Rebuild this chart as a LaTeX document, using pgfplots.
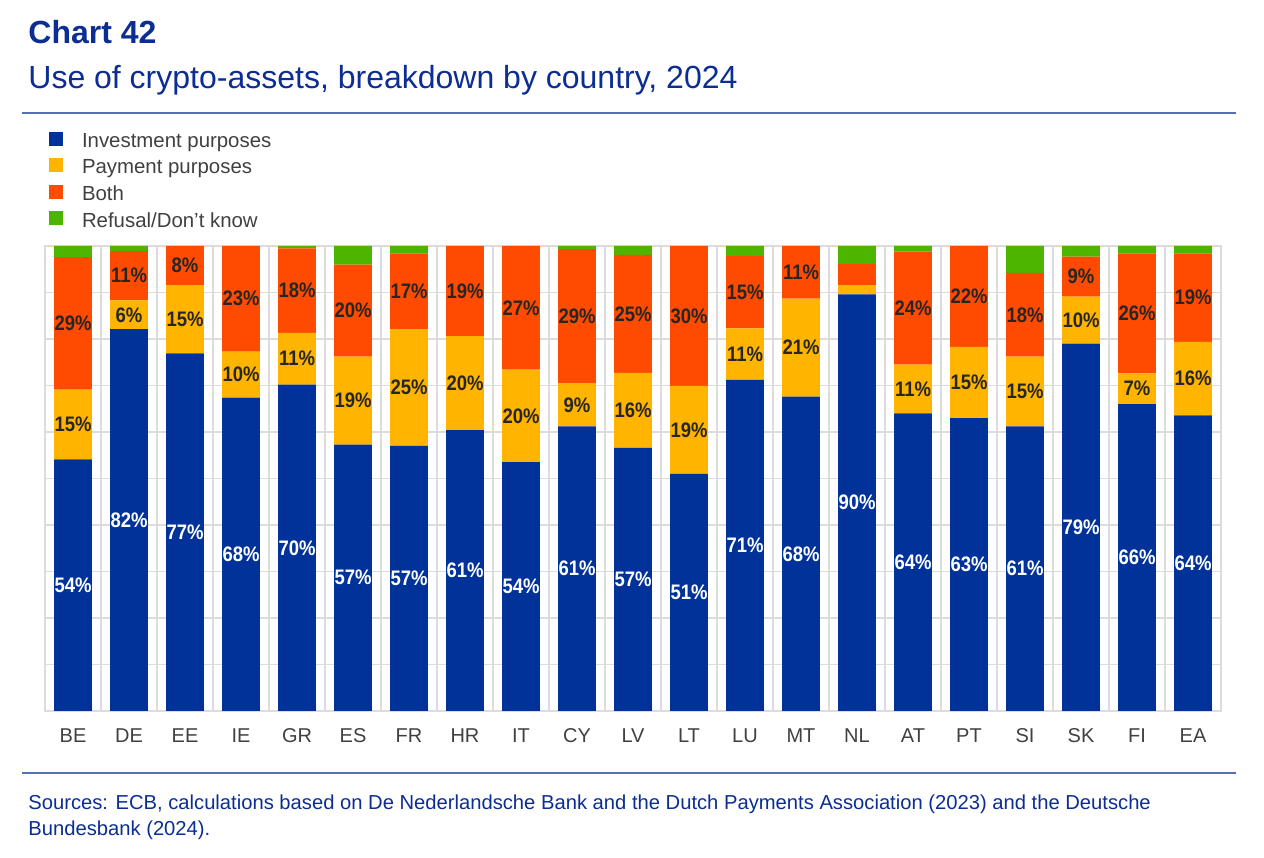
\documentclass[border=0pt]{standalone}
\usepackage{fontspec}
\setmainfont{Liberation Sans}
\newfontfamily\barfont{Liberation Sans}[FakeStretch=0.88]
\usepackage{pgfplots}
\usepackage{pgfplotstable}
\pgfplotsset{compat=1.18}
\definecolor{ecbblue}{HTML}{003299}
\definecolor{ecbyellow}{HTML}{FFB400}
\definecolor{ecbred}{HTML}{FF4B00}
\definecolor{ecbgreen}{HTML}{4DB400}
\definecolor{titleblue}{HTML}{0B2D94}
\definecolor{rulecolor}{HTML}{5570B4}
\definecolor{textgray}{HTML}{404040}
\definecolor{gridgray}{HTML}{DCDCDC}

\pgfplotstableread{
x name inv pay both ref linv lpay lboth
0 BE 54.1 15.0 28.5 2.4 54 15 29
1 DE 82.1 6.2 10.6 1.1 82 6 11
2 EE 76.9 14.7 8.4 0 77 15 8
3 IE 67.4 9.9 22.7 0 68 10 23
4 GR 70.2 11.1 18.2 0.5 70 11 18
5 ES 57.3 18.9 19.8 4.0 57 19 20
6 FR 57.0 25.1 16.3 1.6 57 25 17
7 HR 60.4 20.2 19.4 0 61 20 19
8 IT 53.5 19.9 26.6 0 54 20 27
9 CY 61.2 9.3 28.8 0.7 61 9 29
10 LV 56.6 16.1 25.4 1.9 57 16 25
11 LT 51.0 18.9 30.1 0 51 19 30
12 LU 71.2 11.1 15.5 2.2 71 11 15
13 MT 67.6 21.1 11.3 0 68 21 11
14 NL 89.6 2.0 4.5 3.9 90 {} {}
15 AT 64.0 10.5 24.3 1.2 64 11 24
16 PT 63.0 15.3 21.7 0 63 15 22
17 SI 61.2 15.0 18.0 5.8 61 15 18
18 SK 79.0 10.1 8.6 2.3 79 10 9
19 FI 66.0 6.6 25.8 1.6 66 7 26
20 EA 63.6 15.8 19.0 1.6 64 16 19
}\datatable

\newcommand\barlbl[1]{\edef\tmplbl{#1}\ifx\tmplbl\empty\else\tmplbl\%\fi}

\begin{document}
\begin{tikzpicture}
\path[use as bounding box] (0pt,0pt) rectangle (632pt,428.5pt);

\node[anchor=base west, inner sep=0pt, text=titleblue, font=\bfseries\fontsize{16}{19}\selectfont] at (14pt,406.5pt) {Chart 42};
\node[anchor=base west, inner sep=0pt, text=titleblue, font=\fontsize{16}{19}\selectfont] at (14pt,384pt) {Use of crypto-assets, breakdown by country, 2024};
\draw[rulecolor, line width=1.1pt] (11pt,372pt) -- (618pt,372pt);
\draw[rulecolor, line width=1.1pt] (11pt,42pt) -- (618pt,42pt);
\node[anchor=base west, inner sep=0pt, text=titleblue, font=\fontsize{10.1}{13}\selectfont] at (14pt,23.5pt) {Sources: ECB, calculations based on De Nederlandsche Bank and the Dutch Payments Association (2023) and the Deutsche};
\node[anchor=base west, inner sep=0pt, text=titleblue, font=\fontsize{10.1}{13}\selectfont] at (14pt,10.5pt) {Bundesbank (2024).};

\begin{axis}[
  at={(22.5pt,73pt)}, anchor=south west,
  scale only axis, width=588pt, height=232.5pt,
  ybar stacked, bar width=0.67,
  xmin=-0.5, xmax=20.5, ymin=0, ymax=100,
  xtick={0,...,20},
  xticklabels={BE,DE,EE,IE,GR,ES,FR,HR,IT,CY,LV,LT,LU,MT,NL,AT,PT,SI,SK,FI,EA},
  minor xtick={-0.5,0.5,...,20.5},
  ytick={0,10,...,100}, yticklabels={},
  ymajorgrids, xminorgrids,
  grid style={gridgray, line width=0.7pt},
  minor grid style={gridgray, line width=0.7pt},
  axis line style={gridgray, line width=0.7pt},
  major tick length=0pt, minor tick length=0pt,
  xticklabel style={font=\fontsize{10}{12}\selectfont, text=textgray, text height=7.3pt, text depth=0pt, yshift=-5pt},
  legend cell align=left,
  legend image code/.code={\fill[#1] (0pt,-1.8pt) rectangle (7pt,5.2pt);},
  legend style={draw=none, fill=none, inner sep=0pt, outer sep=0pt,
    at={(axis description cs:0,1)}, anchor=north west, xshift=2pt, yshift=58.6pt,
    font=\fontsize{10.2}{12}\selectfont, text=textgray, row sep=0pt,
    nodes={inner sep=0pt, text height=9.3pt, text depth=4pt, anchor=west},
    /tikz/every odd column/.append style={column sep=9.5pt}},
]
\addplot[fill=ecbblue, draw=none, point meta=explicit symbolic,
  nodes near coords={\barlbl{\pgfplotspointmeta}},
  nodes near coords style={anchor=center, text=white, font=\barfont\bfseries\fontsize{10.5}{12}\selectfont}]
  table[x=x, y=inv, meta=linv]{\datatable};
\addplot[fill=ecbyellow, draw=none, point meta=explicit symbolic,
  nodes near coords={\barlbl{\pgfplotspointmeta}},
  nodes near coords style={anchor=center, text=black!85, font=\barfont\bfseries\fontsize{10.5}{12}\selectfont}]
  table[x=x, y=pay, meta=lpay]{\datatable};
\addplot[fill=ecbred, draw=none, point meta=explicit symbolic,
  nodes near coords={\barlbl{\pgfplotspointmeta}},
  nodes near coords style={anchor=center, text=black!85, font=\barfont\bfseries\fontsize{10.5}{12}\selectfont}]
  table[x=x, y=both, meta=lboth]{\datatable};
\addplot[fill=ecbgreen, draw=none]
  table[x=x, y=ref]{\datatable};
\legend{Investment purposes, Payment purposes, Both, Refusal/Don't know}
\end{axis}
\end{tikzpicture}
\end{document}
